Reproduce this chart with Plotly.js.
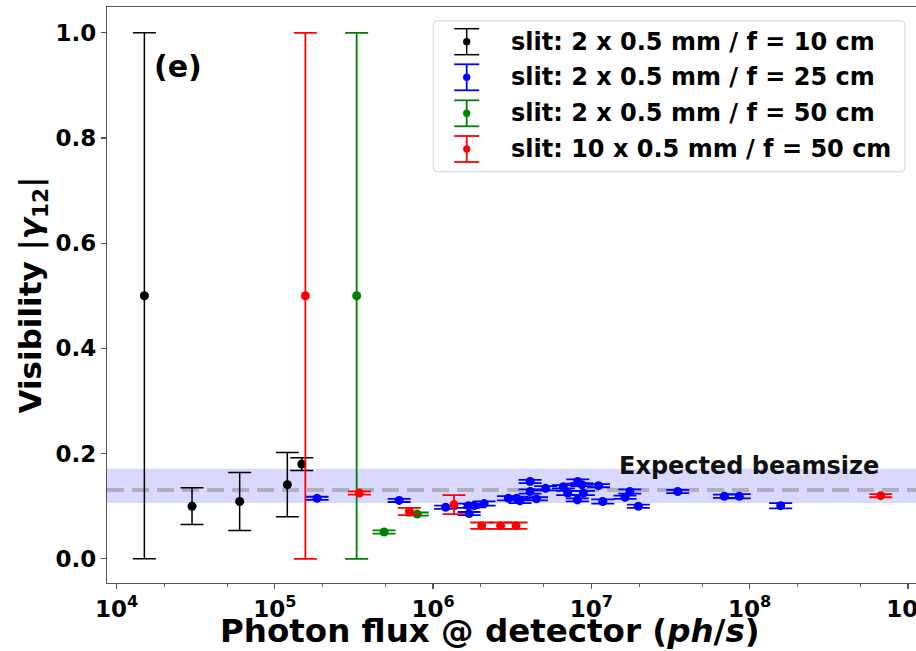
<!DOCTYPE html>
<html>
<head>
<meta charset="utf-8">
<script src="https://cdn.plot.ly/plotly-3.0.1.min.js"></script>
<style>
  html, body { margin: 0; padding: 0; overflow: hidden; background: #fff; }
  #chart { width: 930px; height: 651px; }
</style>
</head>
<body>
<div id="chart"></div>
<script>
// ---------------- data ----------------
const seriesNames = [
  'slit: 2 x 0.5 mm / f = 10 cm',
  'slit: 2 x 0.5 mm / f = 25 cm',
  'slit: 2 x 0.5 mm / f = 50 cm',
  'slit: 10 x 0.5 mm / f = 50 cm'
];

const blackX   = [1.5e4, 3.0e4, 6.0e4, 1.2e5, 1.48e5];
const blackY   = [0.500, 0.100, 0.109, 0.141, 0.180];
const blackErr = [0.500, 0.035, 0.055, 0.061, 0.012];

const blueX = [1.85e5, 6.1e5, 1.2e6, 1.67e6, 1.69e6, 1.82e6, 2.1e6, 2.99e6, 3.37e6, 3.54e6,
               4.1e6, 4.1e6, 4.5e6, 5.14e6, 6.65e6, 7.08e6, 8.15e6, 8.2e6, 8.7e6, 8.9e6,
               1.11e7, 1.18e7, 1.63e7, 1.75e7, 1.98e7, 3.51e7, 6.92e7, 8.6e7, 1.57e8];
const blueY = [0.115, 0.111, 0.098, 0.101, 0.086, 0.101, 0.105, 0.115, 0.115, 0.110,
               0.147, 0.128, 0.114, 0.134, 0.137, 0.125, 0.112, 0.147, 0.141, 0.125,
               0.139, 0.109, 0.117, 0.128, 0.100, 0.128, 0.119, 0.119, 0.101];
const blueErr = [0.003, 0.003, 0.003, 0.004, 0.003, 0.003, 0.004, 0.004, 0.003, 0.004,
                 0.003, 0.004, 0.003, 0.004, 0.003, 0.004, 0.003, 0.004, 0.003, 0.004,
                 0.003, 0.004, 0.003, 0.004, 0.003, 0.003, 0.003, 0.004, 0.005];

const greenX   = [3.29e5, 4.9e5, 7.95e5];
const greenY   = [0.500, 0.051, 0.085];
const greenErr = [0.500, 0.003, 0.003];

const redX   = [1.56e5, 3.42e5, 7.08e5, 1.355e6, 2.03e6, 2.67e6, 3.34e6, 6.73e8];
const redY   = [0.500, 0.125, 0.090, 0.103, 0.063, 0.063, 0.063, 0.120];
const redErr = [0.500, 0.003, 0.007, 0.018, 0.006, 0.006, 0.006, 0.003];

const beamsizeExpected = 0.131;
const beamsizeBand = [0.106, 0.171];
const beamsizeLabel = 'Expected beamsize';
const beamsizeLabelX = 1.45e7;
const panelLabel = '(e)';
const xTitle = 'Photon flux @ detector (<i>ph</i>/<i>s</i>)';
const yTitle = 'Visibility |<i>γ</i><sub>12</sub>|';

const xTickVals = [1e4, 1e5, 1e6, 1e7, 1e8, 1e9];
const xTickText = ['10<sup>4</sup>', '10<sup>5</sup>', '10<sup>6</sup>', '10<sup>7</sup>', '10<sup>8</sup>', '10<sup>9</sup>'];
const yTickVals = [0.0, 0.2, 0.4, 0.6, 0.8, 1.0];

// ---------------- styling ----------------
const colors = ['#000000', '#0000ff', '#008000', '#ff0000'];
const FONT = 'DejaVu Sans, sans-serif';

function mk(x, y, err, i, thick) {
  return {
    type: 'scatter', mode: 'markers', name: seriesNames[i], x: x, y: y,
    marker: { color: colors[i], size: 9 },
    error_y: { type: 'data', array: err, visible: true, color: colors[i], thickness: thick, width: 11.5 },
    showlegend: false, hoverinfo: 'x+y'
  };
}

const traces = [
  mk(blackX, blackY, blackErr, 0, 1.5),
  mk(blueX, blueY, blueErr, 1, 1.8),
  mk(greenX, greenY, greenErr, 2, 1.8),
  mk(redX, redY, redErr, 3, 1.8)
];

// pixel -> paper helpers for decorations (plot area 107..920 x 7..583)
const PL = 107, PR = 920, PT = 7, PB = 583;
const px = v => (v - PL) / (PR - PL);
const py = v => (PB - v) / (PB - PT);

function roundRect(x0, y0, x1, y1, r) {
  const rx = r / (PR - PL), ry = r / (PB - PT);
  const X0 = px(x0), X1 = px(x1), Y0 = py(y0), Y1 = py(y1);
  return `M ${X0 + rx},${Y0} L ${X1 - rx},${Y0} Q ${X1},${Y0} ${X1},${Y0 - ry} ` +
         `L ${X1},${Y1 + ry} Q ${X1},${Y1} ${X1 - rx},${Y1} L ${X0 + rx},${Y1} ` +
         `Q ${X0},${Y1} ${X0},${Y1 + ry} L ${X0},${Y0 - ry} Q ${X0},${Y0} ${X0 + rx},${Y0} Z`;
}

const shapes = [
  { type: 'rect', xref: 'paper', x0: 0, x1: 1, yref: 'y', y0: beamsizeBand[0], y1: beamsizeBand[1],
    fillcolor: 'rgba(0,0,255,0.15)', line: { width: 0 }, layer: 'below' },
  { type: 'line', xref: 'paper', x0: 0, x1: 1, yref: 'y', y0: beamsizeExpected, y1: beamsizeExpected,
    line: { color: 'rgba(160,160,170,0.75)', width: 4, dash: '17px,8px' }, layer: 'below' },
  { type: 'path', xref: 'paper', yref: 'paper', path: roundRect(433.3, 20.7, 905, 171.7, 4),
    fillcolor: 'rgba(255,255,255,0.85)', line: { color: '#d6d6d6', width: 1 }, layer: 'above' }
];

const annotations = [
  { xref: 'paper', yref: 'paper', x: px(152), y: py(67), xanchor: 'left', yanchor: 'middle',
    text: panelLabel, showarrow: false, font: { family: FONT, size: 30, weight: 'bold', color: '#000' } },
  { xref: 'x', yref: 'y', x: Math.log10(beamsizeLabelX), y: 0.176, xanchor: 'left', yanchor: 'middle',
    text: beamsizeLabel, showarrow: false, font: { family: FONT, size: 24, weight: 'bold', color: '#111' } },
  { xref: 'paper', yref: 'paper', x: px(490), y: py(631), xanchor: 'center', yanchor: 'middle',
    text: xTitle, showarrow: false, font: { family: FONT, size: 32.5, weight: 'bold', color: '#000' } }
];

// legend rows
const rowsY = [41.7, 77.3, 113.3, 149.0];
const glyphX = 466.7;
rowsY.forEach((ry, i) => {
  const c = colors[i];
  const lw = i === 0 ? 1.5 : 1.8;
  shapes.push({ type: 'line', xref: 'paper', yref: 'paper', x0: px(glyphX), x1: px(glyphX),
    y0: py(ry - 13), y1: py(ry + 13), line: { color: c, width: lw } });
  shapes.push({ type: 'line', xref: 'paper', yref: 'paper', x0: px(glyphX - 12.5), x1: px(glyphX + 12.5),
    y0: py(ry - 13), y1: py(ry - 13), line: { color: c, width: lw } });
  shapes.push({ type: 'line', xref: 'paper', yref: 'paper', x0: px(glyphX - 12.5), x1: px(glyphX + 12.5),
    y0: py(ry + 13), y1: py(ry + 13), line: { color: c, width: lw } });
  shapes.push({ type: 'circle', xref: 'paper', yref: 'paper', xsizemode: 'pixel', ysizemode: 'pixel',
    xanchor: px(glyphX), yanchor: py(ry), x0: -3.5, x1: 3.5, y0: -3.5, y1: 3.5,
    fillcolor: c, line: { color: c, width: 0.5 } });
  annotations.push({ xref: 'paper', yref: 'paper', x: px(509), y: py(ry), xanchor: 'left', yanchor: 'middle',
    text: seriesNames[i], showarrow: false, font: { family: FONT, size: 24, weight: 'bold', color: '#000' } });
});

const axisCommon = {
  showline: true, linecolor: '#555', linewidth: 1.2, mirror: true,
  ticks: 'outside', ticklen: 5, tickwidth: 1.2, tickcolor: '#555',
  showgrid: false, zeroline: false,
  tickfont: { family: FONT, size: 23, weight: 'bold', color: '#000' }
};

const layout = {
  width: 930, height: 651,
  margin: { l: PL, r: 930 - PR, t: PT, b: 651 - PB },
  paper_bgcolor: '#fff', plot_bgcolor: '#fff',
  font: { family: FONT, weight: 'bold', color: '#000' },
  showlegend: false,
  xaxis: Object.assign({}, axisCommon, {
    type: 'log', range: [3.94, 9.076], tickvals: xTickVals, ticktext: xTickText,
    automargin: false,
    minor: { ticks: 'outside', ticklen: 2.5, tickwidth: 1, tickcolor: '#666', showgrid: false }
  }),
  yaxis: Object.assign({}, axisCommon, {
    range: [-0.046, 1.049], tickvals: yTickVals, tickformat: '.1f', automargin: false,
    title: { text: yTitle, standoff: 4,
             font: { family: FONT, size: 31, weight: 'bold', color: '#000' } }
  }),
  shapes: shapes,
  annotations: annotations
};

Plotly.newPlot('chart', traces, layout, { displayModeBar: false, staticPlot: true });
</script>
</body>
</html>
